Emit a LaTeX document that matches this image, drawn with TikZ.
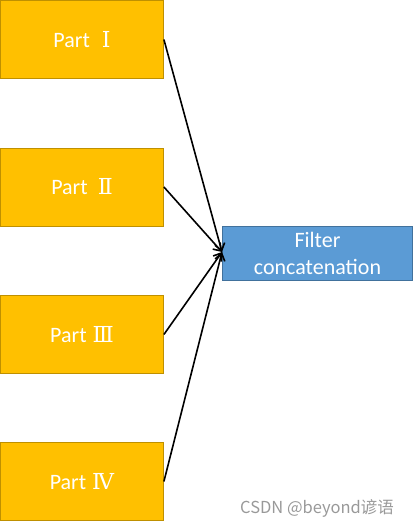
\documentclass[tikz,border=0pt]{standalone}
\usepackage{fontspec}
\setmainfont{Carlito}
\newfontfamily\numfont{DejaVu Serif}
\newfontfamily\cjkfont{Noto Sans CJK SC}
\usetikzlibrary{arrows.meta}
\definecolor{partfill}{HTML}{FFC000}
\definecolor{partdraw}{HTML}{BF9000}
\definecolor{filtfill}{HTML}{5B9BD5}
\definecolor{filtdraw}{HTML}{41719C}
\begin{document}
\begin{tikzpicture}[x=1pt,y=-1pt,
  partbox/.style={draw=partdraw,fill=partfill,line width=0.8pt,minimum width=163pt,minimum height=78pt,inner sep=0pt,text=white,font=\fontsize{22}{26}\selectfont},
  filtbox/.style={draw=filtdraw,fill=filtfill,line width=0.8pt,minimum width=190pt,minimum height=54pt,inner sep=0pt,text=white,align=center,font=\fontsize{22}{27}\selectfont},
  conn/.style={line width=1.6pt,-{Straight Barb[length=7pt,width=10pt,line width=1.6pt]}}]
\useasboundingbox (0,0) rectangle (414,525);
\node[partbox] (p1) at (82,39.5) {Part\hspace{12pt}{\numfont Ⅰ}};
\node[partbox] (p2) at (82,187) {Part\hspace{10pt}{\numfont Ⅱ}};
\node[partbox] (p3) at (82,334.5) {Part\hspace{6pt}{\numfont Ⅲ}};
\node[partbox] (p4) at (82,481.5) {Part\hspace{6pt}{\numfont Ⅳ}};
\node[filtbox] (f) at (317.5,253) {Filter\\concatenation};
\coordinate (t) at (222,252);
\foreach \p in {p1,p2,p3,p4} \draw[conn] (\p.east) -- (t);
\node[anchor=base west,text=gray!80,font=\cjkfont\fontsize{16.5}{18}\selectfont,inner sep=0pt] (wm) at (240,513) {CSDN @beyond谚语};
\end{tikzpicture}
\end{document}
